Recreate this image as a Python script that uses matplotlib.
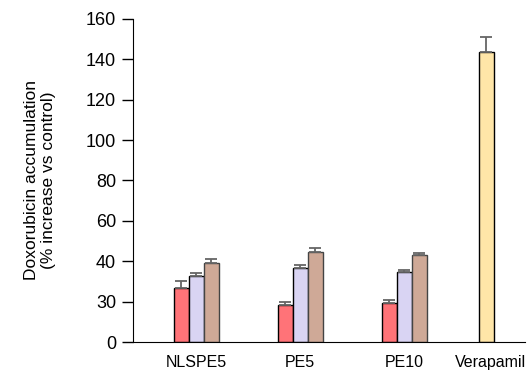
import numpy as np
import matplotlib.pyplot as plt

plt.rcParams['font.family'] = ['Liberation Sans', 'DejaVu Sans']

groups = ['NLSPE5', 'PE5', 'PE10', 'Verapamil']
# three treatment bars per compound group
red_vals = [26.7, 18.3, 19.3]
red_err = [3.5, 1.5, 1.5]
lav_vals = [32.7, 36.6, 34.7]
lav_err = [1.5, 1.4, 0.9]
brown_vals = [39.1, 44.6, 43.0]
brown_err = [1.9, 1.9, 1.0]
vera_val = [143.6]
vera_err = [7.4]

ytick_pos = [0, 20, 40, 60, 80, 100, 120, 140, 160]
ytick_labels = ['0', '30', '40', '60', '80', '100', '120', '140', '160']

fig = plt.figure(figsize=(5.29, 3.78), dpi=100)
ax = fig.add_axes([0.251, 0.095, 0.741, 0.855])

w = 0.144
ind = np.arange(3)
vera_pos = 2.79
ekw = dict(ecolor='#666666', capsize=4, elinewidth=1.3, capthick=1.3)

ax.bar(ind - w, red_vals, w, color='#ff7378', edgecolor='black', linewidth=1,
       yerr=[np.zeros(3), red_err], error_kw=ekw)
ax.bar(ind, lav_vals, w, color='#d9d4f3', edgecolor='black', linewidth=1,
       yerr=[np.zeros(3), lav_err], error_kw=ekw)
ax.bar(ind + w, brown_vals, w, color='#cfa997', edgecolor='#444444', linewidth=1,
       yerr=[np.zeros(3), brown_err], error_kw=ekw)
ax.bar([vera_pos], vera_val, w, color='#ffe6a8', edgecolor='black', linewidth=1,
       yerr=[[0], vera_err], error_kw=ekw)

ax.set_xlim(-0.61, 3.16)
ax.set_ylim(0, 160)
ax.set_xticks([0, 1, 2, vera_pos + 0.04])
ax.set_xticklabels(groups, fontsize=11.5)
ax.tick_params(axis='x', length=0, pad=9)
ax.set_yticks(ytick_pos)
ax.set_yticklabels(ytick_labels, fontsize=13)
ax.tick_params(axis='y', length=8, width=1, direction='out', pad=4)

ax.spines['top'].set_visible(False)
ax.spines['right'].set_visible(False)

ax.set_ylabel('Doxorubicin accumulation\n(% increase vs control)', fontsize=12.5)
ax.yaxis.set_label_coords(-0.196, 0.5)

fig.savefig('out.png', dpi=100)
